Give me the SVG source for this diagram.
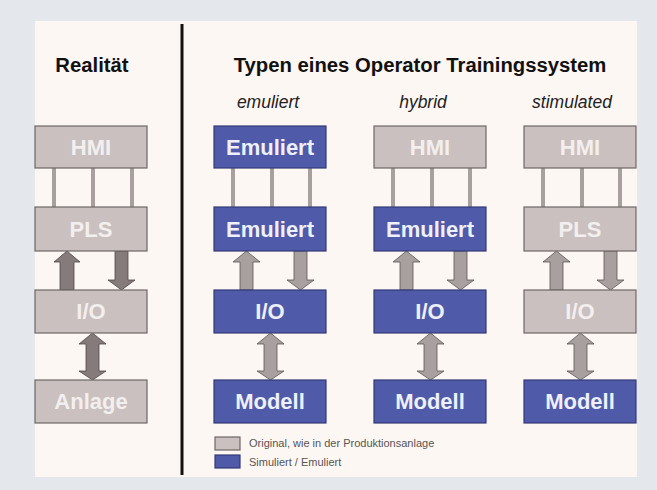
<svg xmlns="http://www.w3.org/2000/svg" width="657" height="490" viewBox="0 0 657 490">
<defs>
<style>
.box-g{fill:#c9c0bf;stroke:#6e6767;stroke-width:1.2}
.box-b{fill:#4f5aa8;stroke:#343a78;stroke-width:1.2}
.lbl{font-family:"Liberation Sans",Arial,sans-serif;font-weight:bold;font-size:22px;text-anchor:middle}
.lbl-g{fill:#f3efee}
.lbl-b{fill:#eef0fb}
.title{font-family:"Liberation Sans",Arial,sans-serif;font-weight:bold;font-size:20.3px;fill:#111}
.sub{font-family:"Liberation Sans",Arial,sans-serif;font-style:italic;font-size:17.5px;fill:#222;text-anchor:middle}
.leg{font-family:"Liberation Sans",Arial,sans-serif;font-size:11px;fill:#555}
.bus{fill:#a8a09e}
.arr1{fill:#857b7b;stroke:#4e4848;stroke-width:0.8}
.arr{fill:#a8a09e;stroke:#5a5454;stroke-width:0.8}
</style>
</defs>
<rect x="0" y="0" width="657" height="490" fill="#e4e8ec"/>
<rect x="35" y="21" width="602" height="456" fill="#fdf7f3"/>
<rect x="180.5" y="24" width="3" height="451" fill="#111"/>
<text class="title" x="92" y="72" text-anchor="middle">Realität</text>
<text class="title" x="420" y="72" text-anchor="middle">Typen eines Operator Trainingssystem</text>
<text class="sub" x="268" y="108">emuliert</text>
<text class="sub" x="423" y="108">hybrid</text>
<text class="sub" x="572" y="108">stimulated</text>

<g id="connectors">
<!-- column 1 -->
<rect class="bus" x="52" y="168" width="4" height="39"/>
<rect class="bus" x="91" y="168" width="4" height="39"/>
<rect class="bus" x="130" y="168" width="4" height="39"/>
<path class="arr1" d="M60,290 V262 H54 L67,251 L80,262 H74 V290 Z"/>
<path class="arr1" d="M115,251 V280 H108 L121.5,290 L135,280 H128 V251 Z"/>
<path class="arr1" d="M86,371 V344 H79 L92.5,333 L106,344 H99 V371 H106 L92.5,380 L79,371 Z"/>
<!-- column 2 -->
<rect class="bus" x="231" y="168" width="4" height="39"/>
<rect class="bus" x="270" y="168" width="4" height="39"/>
<rect class="bus" x="308" y="168" width="4" height="39"/>
<path class="arr" d="M240,290 V262 H233 L246.5,251 L260,262 H253 V290 Z"/>
<path class="arr" d="M294,251 V280 H287 L300.5,290 L314,280 H307 V251 Z"/>
<path class="arr" d="M264,371 V344 H257 L270.5,333 L284,344 H277 V371 H284 L270.5,380 L257,371 Z"/>
<!-- column 3 -->
<rect class="bus" x="391" y="168" width="4" height="39"/>
<rect class="bus" x="430" y="168" width="4" height="39"/>
<rect class="bus" x="468" y="168" width="4" height="39"/>
<path class="arr" d="M400,290 V262 H393 L406.5,251 L420,262 H413 V290 Z"/>
<path class="arr" d="M454,251 V280 H447 L460.5,290 L474,280 H467 V251 Z"/>
<path class="arr" d="M424,371 V344 H417 L430.5,333 L444,344 H437 V371 H444 L430.5,380 L417,371 Z"/>
<!-- column 4 -->
<rect class="bus" x="541" y="168" width="4" height="39"/>
<rect class="bus" x="580" y="168" width="4" height="39"/>
<rect class="bus" x="618" y="168" width="4" height="39"/>
<path class="arr" d="M550,290 V262 H543 L556.5,251 L570,262 H563 V290 Z"/>
<path class="arr" d="M604,251 V280 H597 L610.5,290 L624,280 H617 V251 Z"/>
<path class="arr" d="M574,371 V344 H567 L580.5,333 L594,344 H587 V371 H594 L580.5,380 L567,371 Z"/>
</g>

<!-- column 1: Realität -->
<g id="r-hmi"><rect class="box-g" x="35" y="126" width="112" height="42"/><text class="lbl lbl-g" x="91" y="155">HMI</text></g>
<g id="r-pls"><rect class="box-g" x="35" y="207" width="112" height="44"/><text class="lbl lbl-g" x="91" y="237">PLS</text></g>
<g id="r-io"><rect class="box-g" x="35" y="290" width="112" height="43"/><text class="lbl lbl-g" x="91" y="319">I/O</text></g>
<g id="r-anlage"><rect class="box-g" x="35" y="380" width="112" height="43"/><text class="lbl lbl-g" x="91" y="409">Anlage</text></g>

<!-- column 2: emuliert -->
<g id="e-hmi"><rect class="box-b" x="214" y="126" width="112" height="42"/><text class="lbl lbl-b" x="270" y="155">Emuliert</text></g>
<g id="e-pls"><rect class="box-b" x="214" y="207" width="112" height="44"/><text class="lbl lbl-b" x="270" y="237">Emuliert</text></g>
<g id="e-io"><rect class="box-b" x="214" y="290" width="112" height="43"/><text class="lbl lbl-b" x="270" y="319">I/O</text></g>
<g id="e-modell"><rect class="box-b" x="214" y="380" width="112" height="43"/><text class="lbl lbl-b" x="270" y="409">Modell</text></g>

<!-- column 3: hybrid -->
<g id="h-hmi"><rect class="box-g" x="374" y="126" width="112" height="42"/><text class="lbl lbl-g" x="430" y="155">HMI</text></g>
<g id="h-pls"><rect class="box-b" x="374" y="207" width="112" height="44"/><text class="lbl lbl-b" x="430" y="237">Emuliert</text></g>
<g id="h-io"><rect class="box-b" x="374" y="290" width="112" height="43"/><text class="lbl lbl-b" x="430" y="319">I/O</text></g>
<g id="h-modell"><rect class="box-b" x="374" y="380" width="112" height="43"/><text class="lbl lbl-b" x="430" y="409">Modell</text></g>

<!-- column 4: stimulated -->
<g id="s-hmi"><rect class="box-g" x="524" y="126" width="112" height="42"/><text class="lbl lbl-g" x="580" y="155">HMI</text></g>
<g id="s-pls"><rect class="box-g" x="524" y="207" width="112" height="44"/><text class="lbl lbl-g" x="580" y="237">PLS</text></g>
<g id="s-io"><rect class="box-g" x="524" y="290" width="112" height="43"/><text class="lbl lbl-g" x="580" y="319">I/O</text></g>
<g id="s-modell"><rect class="box-b" x="524" y="380" width="112" height="43"/><text class="lbl lbl-b" x="580" y="409">Modell</text></g>

<!-- legend -->
<g id="legend">
<rect class="box-g" x="215" y="437" width="25" height="13"/>
<rect class="box-b" x="215" y="455" width="25" height="13"/>
<text class="leg" x="249" y="447">Original, wie in der Produktionsanlage</text>
<text class="leg" x="249" y="466">Simuliert / Emuliert</text>
</g>
</svg>
